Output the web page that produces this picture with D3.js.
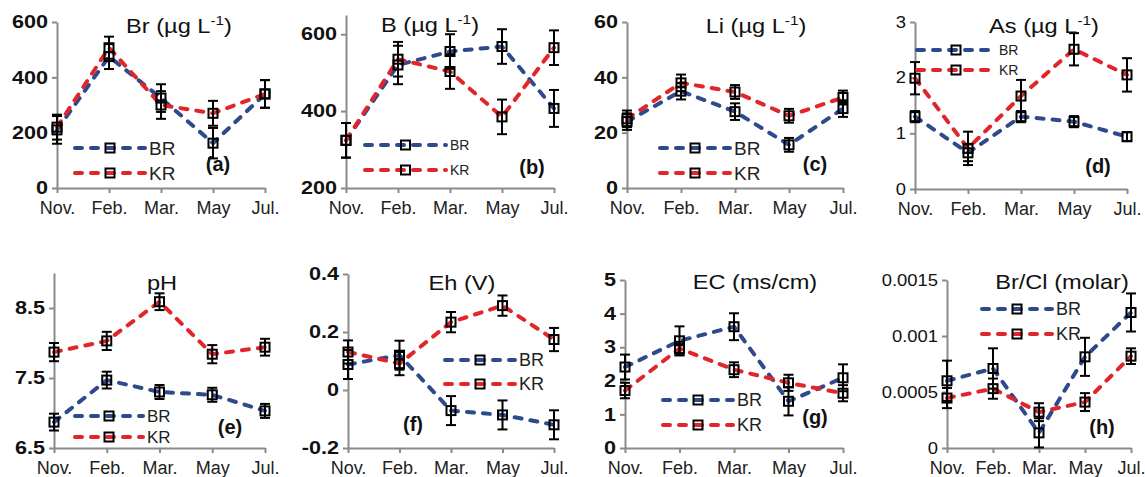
<!DOCTYPE html>
<html>
<head>
<meta charset="utf-8">
<script src="https://cdn.jsdelivr.net/npm/d3@7"></script>
<style>
body { margin: 0; background: #fff; }
svg { display: block; font-family: "Liberation Sans", Arial, sans-serif; }
.axis path, .axis line { stroke: #8a8a8a; stroke-width: 2; }
.axis text { fill: #111; }
.xaxis text { font-size: 18px; fill: #222; }
.line { fill: none; stroke-width: 4; stroke-dasharray: 7, 9; stroke-linecap: round; }
.err { stroke: #000; stroke-width: 2; }
.marker { fill: none; stroke: #000; stroke-width: 2; }
.title { font-size: 20px; fill: #111; }
.tag { font-size: 20px; font-weight: bold; fill: #111; }
.legtext { fill: #222; }
</style>
</head>
<body>
<svg id="chart" width="1145" height="477"></svg>
<script>
/*global d3*/
(function () {
    "use strict";

    var months = ["Nov.", "Feb.", "Mar.", "May", "Jul."];
    var seriesNames = ["BR", "KR"];
    var colors = { BR: "#2f4a8c", KR: "#e1262b" };

    // (a) Br
    var brBR = [210, 475, 325, 162, 340],
        brBRerr = [50, 45, 50, 55, 50],
        brKR = [220, 507, 300, 270, 340],
        brKRerr = [45, 40, 50, 45, 50];
    // (b) B
    var bBR = [324, 520, 555, 568, 407],
        bBRerr = [45, 50, 45, 45, 48],
        bKR = [324, 535, 503, 385, 565],
        bKRerr = [45, 45, 45, 45, 45];
    // (c) Li
    var liBR = [24, 35, 27.6, 15.6, 28.7],
        liBRerr = [3, 3, 3, 2.5, 3],
        liKR = [25, 38, 34.7, 26.1, 32.7],
        liKRerr = [3, 3, 2.5, 2.5, 2.5];
    // (d) As
    var asBR = [1.3, 0.65, 1.3, 1.21, 0.94],
        asBRerr = [0.1, 0.15, 0.1, 0.1, 0.08],
        asKR = [1.99, 0.73, 1.67, 2.51, 2.05],
        asKRerr = [0.29, 0.3, 0.29, 0.29, 0.3];
    // (e) pH
    var phBR = [6.87, 7.47, 7.3, 7.26, 7.03],
        phBRerr = [0.12, 0.12, 0.1, 0.1, 0.1],
        phKR = [7.87, 8.03, 8.59, 7.84, 7.94],
        phKRerr = [0.13, 0.13, 0.12, 0.13, 0.12];
    // (f) Eh
    var ehBR = [0.088, 0.12, -0.071, -0.086, -0.12],
        ehBRerr = [0.05, 0.05, 0.05, 0.05, 0.05],
        ehKR = [0.131, 0.091, 0.234, 0.291, 0.174],
        ehKRerr = [0.04, 0.04, 0.035, 0.035, 0.04];
    // (g) EC
    var ecBR = [2.41, 3.19, 3.61, 1.39, 2.09],
        ecBRerr = [0.37, 0.43, 0.4, 0.42, 0.4],
        ecKR = [1.71, 2.96, 2.33, 1.94, 1.63],
        ecKRerr = [0.23, 0.2, 0.22, 0.24, 0.24];
    // (h) Br/Cl
    var brclBR = [0.0006, 0.00071, 0.000135, 0.000814, 0.00121],
        brclBRerr = [0.00018, 0.00018, 0.00013, 0.00017, 0.00017],
        brclKR = [0.000446, 0.00053, 0.00032, 0.00041, 0.00082],
        brclKRerr = [0.00009, 0.00009, 0.00008, 0.00008, 0.00007];

    var yTicks = {
        a: [0, 200, 400, 600],
        b: [200, 400, 600],
        c: [0, 20, 40, 60],
        d: [0, 1, 2, 3],
        e: [6.5, 7.5, 8.5],
        f: [-0.2, 0, 0.2, 0.4],
        g: [0, 1, 2, 3, 4, 5],
        h: [0, 0.0005, 0.001, 0.0015]
    };
    var yDomains = {
        a: [0, 600], b: [200, 650], c: [0, 60], d: [0, 3],
        e: [6.5, 9], f: [-0.2, 0.4], g: [0, 5], h: [0, 0.0015]
    };
    var titles = {
        a: ["Br (µg L", "-1", ")"], b: ["B (µg L", "-1", ")"],
        c: ["Li (µg L", "-1", ")"], d: ["As (µg L", "-1", ")"],
        e: ["pH"], f: ["Eh (V)"], g: ["EC (ms/cm)"], h: ["Br/Cl (molar)"]
    };

    // layout: x0/x1 category span, yb/yt pixel range, legend, title and tag spots
    var panels = [
        { id: "a", BR: brBR, BRe: brBRerr, KR: brKR, KRe: brKRerr, bold: true,
          x0: 57, x1: 265, yb: 188, yt: 22, tx: 179, ty: 33, gx: 218, gy: 171,
          lx0: 75, lx1: 145, ly: 148, ldy: 25, lfs: 19 },
        { id: "b", BR: bBR, BRe: bBRerr, KR: bKR, KRe: bKRerr, bold: true,
          x0: 346, x1: 554, yb: 188, yt: 15, tx: 430, ty: 32, gx: 532, gy: 174,
          lx0: 365, lx1: 446, ly: 145, ldy: 25, lfs: 14 },
        { id: "c", BR: liBR, BRe: liBRerr, KR: liKR, KRe: liKRerr, bold: true,
          x0: 627, x1: 843, yb: 188, yt: 22, tx: 756, ty: 33, gx: 815, gy: 171,
          lx0: 660, lx1: 730, ly: 148, ldy: 25, lfs: 19 },
        { id: "d", BR: asBR, BRe: asBRerr, KR: asKR, KRe: asKRerr, bold: false,
          x0: 915, x1: 1127, yb: 189, yt: 22, tx: 1044, ty: 33, gx: 1098, gy: 173,
          lx0: 917, lx1: 995, ly: 50, ldy: 20, lfs: 14 },
        { id: "e", BR: phBR, BRe: phBRerr, KR: phKR, KRe: phKRerr, bold: true,
          x0: 54, x1: 265, yb: 448, yt: 273, tx: 162, ty: 290, gx: 230, gy: 434,
          lx0: 75, lx1: 143, ly: 416, ldy: 21, lfs: 17 },
        { id: "f", BR: ehBR, BRe: ehBRerr, KR: ehKR, KRe: ehKRerr, bold: true,
          x0: 348, x1: 554, yb: 448, yt: 274, tx: 462, ty: 290, gx: 413, gy: 431,
          lx0: 445, lx1: 515, ly: 360, ldy: 24, lfs: 18 },
        { id: "g", BR: ecBR, BRe: ecBRerr, KR: ecKR, KRe: ecKRerr, bold: true,
          x0: 625, x1: 843, yb: 448, yt: 280, tx: 755, ty: 289, gx: 815, gy: 424,
          lx0: 663, lx1: 733, ly: 400, ldy: 25, lfs: 18 },
        { id: "h", BR: brclBR, BRe: brclBRerr, KR: brclKR, KRe: brclKRerr, bold: false,
          x0: 947, x1: 1131, yb: 448, yt: 280, tx: 1062, ty: 289, gx: 1102, gy: 434,
          lx0: 982, lx1: 1052, ly: 309, ldy: 25, lfs: 18 }
    ];

    var svg = d3.select("#chart");

    panels.forEach(function (p) {
        var g = svg.append("g").attr("class", "panel panel-" + p.id),
            x = d3.scalePoint().domain(months).range([p.x0, p.x1]),
            y = d3.scaleLinear().domain(yDomains[p.id]).range([p.yb, p.yt]);

        // axes
        var xa = g.append("g")
            .attr("class", "axis xaxis")
            .attr("transform", "translate(0," + p.yb + ")")
            .call(d3.axisBottom(x).tickSize(5).tickSizeOuter(0).tickPadding(8));
        xa.selectAll("text").attr("font-family", null).attr("font-size", null);

        var ya = g.append("g")
            .attr("class", "axis yaxis")
            .attr("transform", "translate(" + p.x0 + ",0)")
            .call(d3.axisLeft(y).tickValues(yTicks[p.id]).tickSize(5)
                .tickSizeOuter(0).tickPadding(4)
                .tickFormat(function (d) { return String(d); }));
        ya.selectAll("text")
            .attr("font-family", null)
            .attr("x", 0)
            .attr("transform", "translate(-9,0) scale(" + (p.bold ? 1.2 : 1.15) + ",1)")
            .style("font-size", p.bold ? "18px" : "16px")
            .style("font-weight", p.bold ? "bold" : "normal");

        // lines
        seriesNames.forEach(function (s) {
            var line = d3.line()
                .x(function (d, i) { return x(months[i]); })
                .y(function (d) { return y(d); });
            g.append("path")
                .datum(p[s])
                .attr("class", "line")
                .attr("stroke", colors[s])
                .attr("d", line);
        });

        // error bars
        seriesNames.forEach(function (s) {
            var eb = g.append("g").selectAll("g")
                .data(p[s].map(function (v, i) { return { m: months[i], v: v, e: p[s + "e"][i] }; }))
                .enter().append("g");
            eb.append("line").attr("class", "err")
                .attr("x1", function (d) { return x(d.m); })
                .attr("x2", function (d) { return x(d.m); })
                .attr("y1", function (d) { return y(d.v - d.e); })
                .attr("y2", function (d) { return y(d.v + d.e); });
            [-1, 1].forEach(function (k) {
                eb.append("line").attr("class", "err")
                    .attr("x1", function (d) { return x(d.m) - 5; })
                    .attr("x2", function (d) { return x(d.m) + 5; })
                    .attr("y1", function (d) { return y(d.v + k * d.e); })
                    .attr("y2", function (d) { return y(d.v + k * d.e); });
            });
        });

        // markers
        seriesNames.forEach(function (s) {
            g.append("g").selectAll("rect")
                .data(p[s])
                .enter().append("rect")
                .attr("class", "marker")
                .attr("x", function (d, i) { return x(months[i]) - 4.5; })
                .attr("y", function (d) { return y(d) - 4.5; })
                .attr("width", 9)
                .attr("height", 9);
        });

        // legend
        seriesNames.forEach(function (s, i) {
            var ly = p.ly + i * p.ldy,
                mx = (p.lx0 + p.lx1) / 2;
            g.append("line")
                .attr("class", "line")
                .attr("stroke", colors[s])
                .attr("x1", p.lx0).attr("x2", p.lx1)
                .attr("y1", ly).attr("y2", ly);
            g.append("rect")
                .attr("class", "marker")
                .attr("x", mx - 4.5).attr("y", ly - 4.5)
                .attr("width", 9).attr("height", 9);
            g.append("text")
                .attr("class", "legtext")
                .attr("x", p.lx1 + 4)
                .attr("y", ly + p.lfs * 0.36)
                .style("font-size", p.lfs + "px")
                .text(s);
        });

        // title
        var t = titles[p.id],
            tt = g.append("text")
                .attr("class", "title")
                .attr("text-anchor", "middle")
                .attr("transform", "translate(" + p.tx + "," + p.ty + ") scale(1.18,1)");
        tt.append("tspan").text(t[0]);
        if (t.length > 1) {
            tt.append("tspan").attr("dy", -8).style("font-size", "13px").text(t[1]);
            tt.append("tspan").attr("dy", 8).text(t[2]);
        }

        // panel tag
        g.append("text")
            .attr("class", "tag")
            .attr("text-anchor", "middle")
            .attr("x", p.gx)
            .attr("y", p.gy)
            .text("(" + p.id + ")");
    });
}());
</script>
</body>
</html>
